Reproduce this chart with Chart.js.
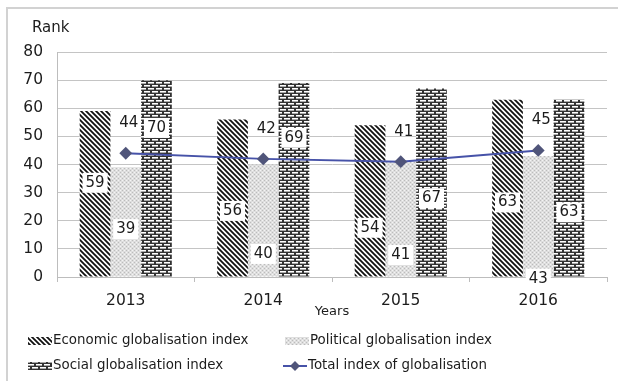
<!DOCTYPE html>
<html>
<head>
<meta charset="utf-8">
<script src="https://cdn.jsdelivr.net/npm/chart.js@4/dist/chart.umd.min.js"></script>
<style>
  body { margin: 0; background: #fff; }
  #rendcont { position: absolute; left: 0; top: 0; }
</style>
</head>
<body>
<canvas id="rendcont" width="618" height="381"></canvas>
<script>
// values
const years = ["2013", "2014", "2015", "2016"];
const economic = [59, 56, 54, 63];
const political = [39, 40, 41, 43];
const social = [70, 69, 67, 63];
const total = [44, 42, 41, 45];
const yMin = 0, yMax = 80, yStep = 10;

// where the value boxes sit on each bar (in axis units, as placed in the original)
const econLabelAt = [33.5, 23.5, 17.5, 26.5];
const polLabelAt = [17, 8.2, 7.8, -0.6];
const socLabelAt = [53, 49.5, 28, 23];

const FONT = "'DejaVu Sans', Verdana, sans-serif";
const TXT = "#1c1c1c";

function makeTile(w, h, paint) {
    let c = document.createElement("canvas");
    c.width = w; c.height = h;
    let g = c.getContext("2d");
    paint(g);
    return document.getElementById("rendcont").getContext("2d").createPattern(c, "repeat");
}
// "\\\" stripes
let stripePat = makeTile(5, 5, (g) => {
    g.fillStyle = "#fff"; g.fillRect(0, 0, 5, 5);
    g.strokeStyle = "#111"; g.lineWidth = 1.8;
    g.beginPath();
    g.moveTo(-1, -1); g.lineTo(6, 6);
    g.moveTo(4, -1); g.lineTo(6, 1);
    g.moveTo(-1, 4); g.lineTo(1, 6);
    g.stroke();
});
// light grey speckle
let dotPat = makeTile(4, 4, (g) => {
    g.fillStyle = "#dedede"; g.fillRect(0, 0, 4, 4);
    g.fillStyle = "#bcbcbc"; g.fillRect(0, 0, 1, 1); g.fillRect(2, 2, 1, 1);
    g.fillStyle = "#f4f4f4"; g.fillRect(2, 0, 1, 1); g.fillRect(0, 2, 1, 1);
});
// horizontal brick
let brickPat = makeTile(8, 6, (g) => {
    g.fillStyle = "#333"; g.fillRect(0, 0, 8, 6);
    g.fillStyle = "#fff";
    g.fillRect(0, 1, 6, 1);
    g.fillRect(4, 4, 4, 1); g.fillRect(0, 4, 2, 1);
    g.fillStyle = "#aaa";
    g.fillRect(0, 2, 6, 1);
    g.fillRect(4, 5, 4, 1); g.fillRect(0, 5, 2, 1);
});

function boxLabel(c, txt, x, y, bg) {
    c.font = "15px " + FONT;
    let w = c.measureText(txt).width;
    if (bg) {
        c.fillStyle = "#fff";
        c.fillRect(x - w / 2 - 3, y - 10, w + 6, 20);
    }
    c.fillStyle = TXT;
    c.textAlign = "center";
    c.textBaseline = "middle";
    c.fillText(txt, x, y);
}

let labelPlugin = {
    id: "vals",
    afterDatasetsDraw(chart) {
        let c = chart.ctx, ys = chart.scales.y;
        let spots = [[1, economic, econLabelAt], [2, political, polLabelAt], [3, social, socLabelAt]];
        c.save();
        spots.forEach(([di, vals, at]) => {
            let meta = chart.getDatasetMeta(di);
            meta.data.forEach((bar, j) => {
                boxLabel(c, String(vals[j]), bar.x, ys.getPixelForValue(at[j]), true);
            });
        });
        let lm = chart.getDatasetMeta(0);
        lm.data.forEach((pt, j) => {
            boxLabel(c, String(total[j]), pt.x + 3, pt.y - 30, false);
        });
        c.restore();
    }
};

let decoPlugin = {
    id: "deco",
    beforeDraw(chart) {
        let c = chart.ctx;
        c.save();
        c.fillStyle = "#fff";
        c.fillRect(0, 0, chart.width, chart.height);
        c.strokeStyle = "#d2d2d2"; c.lineWidth = 2;
        c.beginPath();
        c.moveTo(7, 381); c.lineTo(7, 8); c.lineTo(618, 8);
        c.stroke();
        c.restore();
    },
    afterDraw(chart) {
        let c = chart.ctx;
        c.save();
        c.fillStyle = TXT;
        c.textBaseline = "middle";
        c.textAlign = "left";
        c.font = "15px " + FONT;
        c.fillText("Rank", 32, 28);

        // legend, two columns
        let items = [
            { t: "Economic globalisation index", x: 28, y: 341, fill: stripePat },
            { t: "Political globalisation index", x: 285, y: 341, fill: dotPat },
            { t: "Social globalisation index", x: 28, y: 366, fill: brickPat },
            { t: "Total index of globalisation", x: 283, y: 366, line: true }
        ];
        c.font = "13.4px " + FONT;
        items.forEach((it) => {
            if (it.line) {
                c.strokeStyle = "#4652a8"; c.lineWidth = 2;
                c.beginPath(); c.moveTo(it.x, it.y); c.lineTo(it.x + 24, it.y); c.stroke();
                c.fillStyle = "#50557a";
                c.beginPath();
                c.moveTo(it.x + 12, it.y - 5); c.lineTo(it.x + 17, it.y);
                c.lineTo(it.x + 12, it.y + 5); c.lineTo(it.x + 7, it.y);
                c.closePath(); c.fill();
            } else {
                c.fillStyle = it.fill;
                c.fillRect(it.x, it.y - 4, 24, 8);
            }
            c.fillStyle = TXT;
            c.fillText(it.t, it.x + 25, it.y);
        });
        c.restore();
    }
};

let cont = document.getElementById("rendcont").getContext("2d");
let cht = new Chart(cont, {
    type: "bar",
    data: {
        labels: years,
        datasets: [
            { type: "line", label: "Total index of globalisation", data: total,
              borderColor: "#4652a8", borderWidth: 2, pointStyle: "rectRot",
              pointRadius: 5, pointBackgroundColor: "#50557a", pointBorderColor: "#50557a",
              tension: 0 },
            { label: "Economic globalisation index", data: economic, backgroundColor: stripePat },
            { label: "Political globalisation index", data: political, backgroundColor: dotPat },
            { label: "Social globalisation index", data: social, backgroundColor: brickPat }
        ]
    },
    options: {
        responsive: false,
        animation: false,
        datasets: { bar: { barPercentage: 1, categoryPercentage: 0.67 } },
        layout: { padding: { left: 0, right: 11, top: 52, bottom: 62 } },
        scales: {
            x: {
                offset: true,
                grid: { drawOnChartArea: false, drawTicks: true, tickLength: 5, offset: true, color: "#bdbdbd" },
                border: { display: true, color: "#bdbdbd", width: 1 },
                ticks: { color: TXT, padding: 10, font: { family: FONT, size: 15.5 } },
                title: { display: true, text: "Years", color: TXT, padding: 0, font: { family: FONT, size: 13 } },
                afterFit(s) { s.height = 42; }
            },
            y: {
                min: yMin, max: yMax,
                ticks: { stepSize: yStep, color: TXT, padding: 14, font: { family: FONT, size: 15.5 } },
                grid: { color: "#c4c4c4", drawTicks: false },
                border: { display: true, color: "#bdbdbd", width: 1 },
                afterFit(s) { s.width = 57; }
            }
        },
        plugins: {
            legend: { display: false },
            tooltip: { enabled: false }
        }
    },
    plugins: [decoPlugin, labelPlugin]
});
</script>
</body>
</html>
